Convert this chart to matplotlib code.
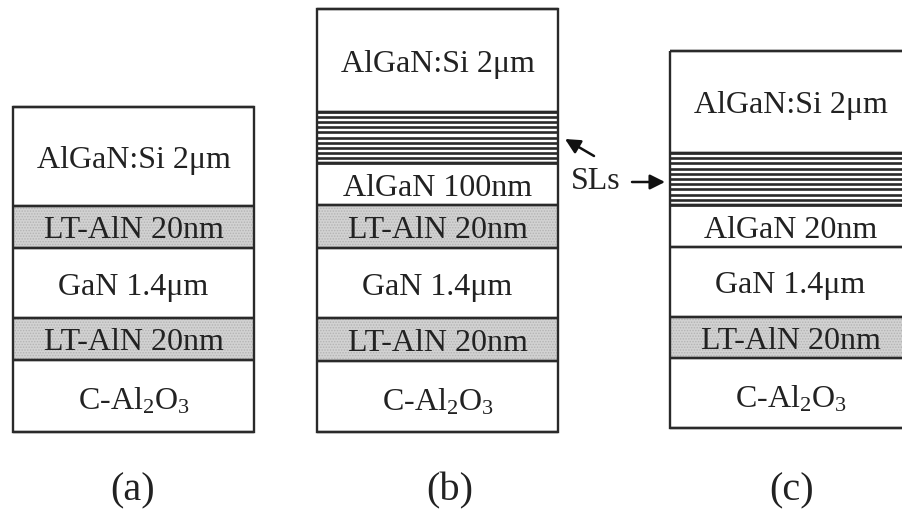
import matplotlib
matplotlib.use("Agg")
import matplotlib.pyplot as plt
from matplotlib.patches import Rectangle

plt.rcParams["font.family"] = ["Liberation Serif", "DejaVu Serif"]
plt.rcParams["mathtext.fontset"] = "custom"
plt.rcParams["mathtext.rm"] = "Liberation Serif"
plt.rcParams["mathtext.it"] = "Liberation Serif:italic"
plt.rcParams["hatch.linewidth"] = 0.7

# Layer stacks, top to bottom: (label, kind) and layer boundaries (px, top to bottom)
stack_a_labels = ["AlGaN:Si 2μm", "LT-AlN 20nm", "GaN 1.4μm", "LT-AlN 20nm", "C-Al$_2$O$_3$"]
stack_a_kinds = ["plain", "aln", "plain", "aln", "plain"]
stack_a_edges = [107, 206, 248, 318, 360, 432]

stack_b_labels = ["AlGaN:Si 2μm", "", "AlGaN 100nm", "LT-AlN 20nm", "GaN 1.4μm", "LT-AlN 20nm", "C-Al$_2$O$_3$"]
stack_b_kinds = ["plain", "sl", "plain", "aln", "plain", "aln", "plain"]
stack_b_edges = [9, 112, 163, 205, 248, 318, 361, 432]

stack_c_labels = ["AlGaN:Si 2μm", "", "AlGaN 20nm", "GaN 1.4μm", "LT-AlN 20nm", "C-Al$_2$O$_3$"]
stack_c_kinds = ["plain", "sl", "plain", "plain", "aln", "plain"]
stack_c_edges = [51, 153, 205, 247, 317, 358, 428]

stack_x = [(13, 254), (317, 558), (670, 911)]
panel_labels = ["(a)", "(b)", "(c)"]
panel_label_x = [133, 450, 792]
sl_periods = 10

INK = "#2a2a2a"
TEXT = "#222222"

fig = plt.figure(figsize=(9.03, 5.15), dpi=100)
ax = fig.add_axes([0, 0, 1, 1])
ax.set_xlim(0, 903)
ax.set_ylim(515, 0)
ax.axis("off")


def draw_stack(x0, x1, labels, kinds, edges):
    w = x1 - x0
    for lab, kind, top, bot in zip(labels, kinds, edges[:-1], edges[1:]):
        h = bot - top
        if kind == "aln":
            ax.add_patch(Rectangle((x0, top), w, h, facecolor="#d2d2d2",
                                   edgecolor="#b3b3b3", hatch="......", lw=0))
        elif kind == "sl":
            step = h / sl_periods
            ax.hlines([top + i * step for i in range(sl_periods + 1)], x0, x1,
                      colors=INK, lw=1.9)
        ax.hlines([top, bot], x0, x1, colors=INK, lw=1.7)
        if lab:
            # substrate label has subscripts, so sit it a little lower
            base = (top + bot) / 2 + (14 if "$" in lab else 11.5)
            ax.text((x0 + x1) / 2, base, lab, ha="center", va="baseline",
                    fontsize=23, color=TEXT)
    ax.add_patch(Rectangle((x0, edges[0]), w, edges[-1] - edges[0],
                           fill=False, edgecolor=INK, lw=1.7))


draw_stack(*stack_x[0], stack_a_labels, stack_a_kinds, stack_a_edges)
draw_stack(*stack_x[1], stack_b_labels, stack_b_kinds, stack_b_edges)
draw_stack(*stack_x[2], stack_c_labels, stack_c_kinds, stack_c_edges)

# superlattice callout
ax.text(571, 189, "SLs", ha="left", va="baseline", fontsize=23, color=TEXT)
arrow = dict(arrowstyle="-|>,head_length=0.9,head_width=0.45", color="#111111", lw=1.8,
             shrinkA=0, shrinkB=0)
ax.annotate("", xy=(565, 139), xytext=(594, 156), arrowprops=arrow)
ax.annotate("", xy=(665, 182), xytext=(632, 182), arrowprops=arrow)

for lab, x in zip(panel_labels, panel_label_x):
    ax.text(x, 491, lab, ha="center", va="center", fontsize=29, color=TEXT)

fig.savefig("out.png", dpi=100)
